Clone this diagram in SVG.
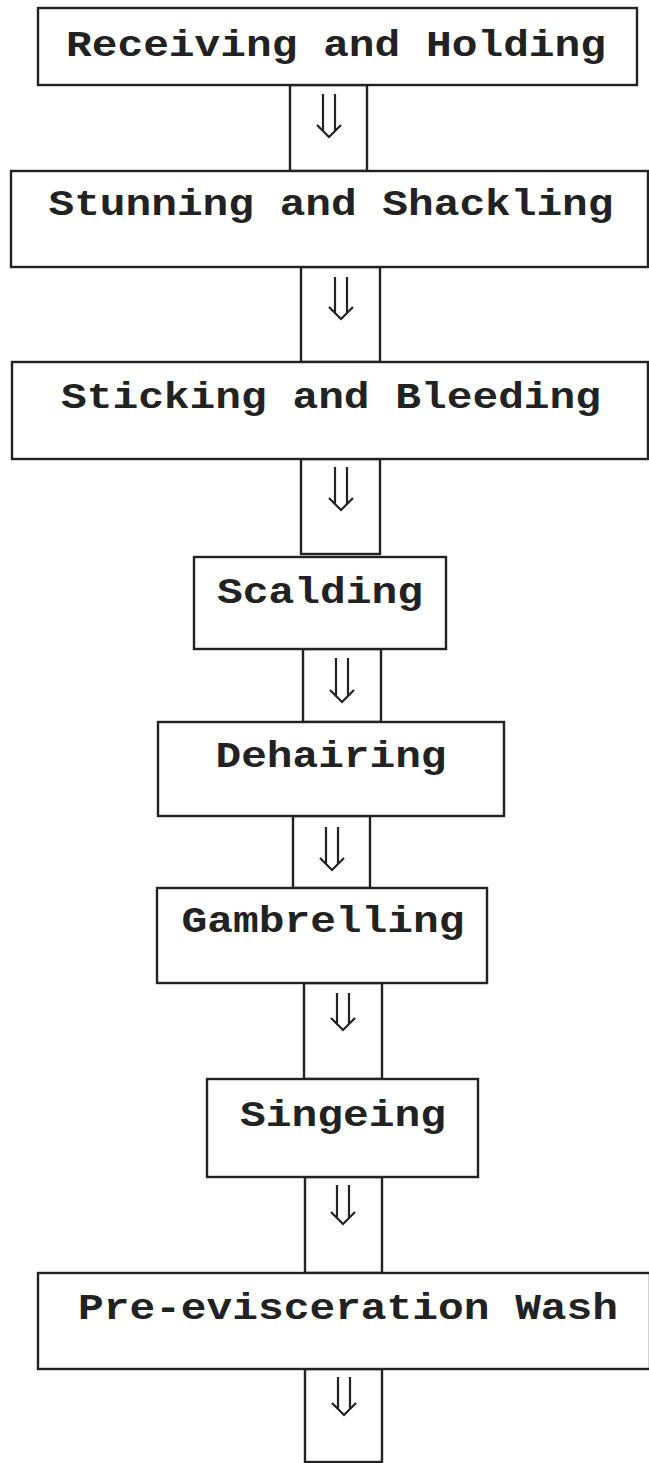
<svg xmlns="http://www.w3.org/2000/svg" width="649" height="1463" viewBox="0 0 649 1463">
<style>
.box{fill:#fff;stroke:#222;stroke-width:2.4}
.lbl{font-family:"Liberation Mono","Courier New",monospace;font-weight:bold;font-size:37.5px;fill:#222;text-anchor:middle}
.conn{fill:none;stroke:#222;stroke-width:2.4}
.arr{fill:none;stroke:#222;stroke-width:2.2;stroke-linejoin:miter}
</style>
<rect width="649" height="1463" fill="#fff"/>
<g id="connectors">
<rect class="conn" x="290" y="85" width="77" height="86"/>
<path class="arr" d="M323,94 V131 M335,94 V131 M317,125 L329,137 L341,125"/>
<rect class="conn" x="301" y="267" width="79" height="95"/>
<path class="arr" d="M335,277 V313 M347,277 V313 M329,307 L341,319 L353,307"/>
<rect class="conn" x="301" y="459" width="79" height="95"/>
<path class="arr" d="M335,467 V504 M347,467 V504 M329,498 L341,510 L353,498"/>
<rect class="conn" x="303" y="649" width="78" height="73"/>
<path class="arr" d="M336,658 V696 M348,658 V696 M330,690 L342,702 L354,690"/>
<rect class="conn" x="293" y="816" width="77" height="72"/>
<path class="arr" d="M326,827 V864 M338,827 V864 M320,858 L332,870 L344,858"/>
<rect class="conn" x="304" y="983" width="78" height="96"/>
<path class="arr" d="M337,993 V1024 M349,993 V1024 M331,1018 L343,1030 L355,1018"/>
<rect class="conn" x="305" y="1177" width="77" height="96"/>
<path class="arr" d="M337,1185 V1218 M349,1185 V1218 M331,1212 L343,1224 L355,1212"/>
<rect class="conn" x="305" y="1369" width="77" height="93"/>
<path class="arr" d="M338,1377 V1409 M350,1377 V1409 M332,1403 L344,1415 L356,1403"/>
</g>
<g id="n1"><rect class="box" x="38" y="8" width="599" height="77"/><text class="lbl" x="336" y="56" textLength="540" lengthAdjust="spacingAndGlyphs">Receiving and Holding</text></g>
<g id="n2"><rect class="box" x="11" y="171" width="637" height="96"/><text class="lbl" x="331" y="215" textLength="565" lengthAdjust="spacingAndGlyphs">Stunning and Shackling</text></g>
<g id="n3"><rect class="box" x="12" y="362" width="636" height="97"/><text class="lbl" x="331" y="408" textLength="540" lengthAdjust="spacingAndGlyphs">Sticking and Bleeding</text></g>
<g id="n4"><rect class="box" x="194" y="557" width="252" height="92"/><text class="lbl" x="320" y="603" textLength="206" lengthAdjust="spacingAndGlyphs">Scalding</text></g>
<g id="n5"><rect class="box" x="158" y="722" width="346" height="94"/><text class="lbl" x="331" y="767" textLength="231" lengthAdjust="spacingAndGlyphs">Dehairing</text></g>
<g id="n6"><rect class="box" x="157" y="888" width="330" height="95"/><text class="lbl" x="323" y="932" textLength="283" lengthAdjust="spacingAndGlyphs">Gambrelling</text></g>
<g id="n7"><rect class="box" x="207" y="1079" width="271" height="98"/><text class="lbl" x="343" y="1126" textLength="206" lengthAdjust="spacingAndGlyphs">Singeing</text></g>
<g id="n8"><rect class="box" x="38" y="1273" width="612" height="96"/><text class="lbl" x="348" y="1319" textLength="540" lengthAdjust="spacingAndGlyphs">Pre-evisceration Wash</text></g>
</svg>
